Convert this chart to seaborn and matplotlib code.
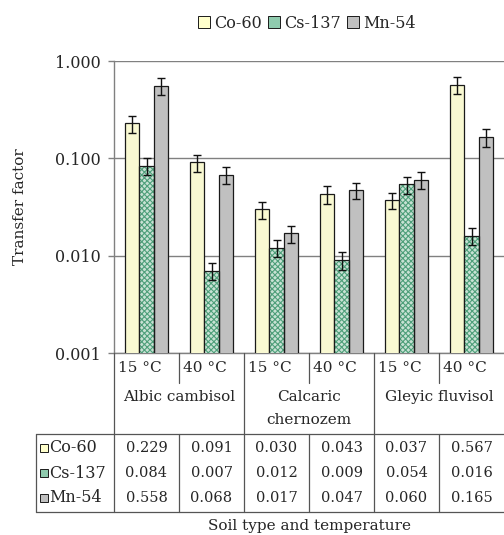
import numpy as np
import pandas as pd
import matplotlib
matplotlib.use("Agg")
import matplotlib.pyplot as plt
import matplotlib.transforms as mtransforms
from matplotlib.lines import Line2D
from matplotlib.patches import Patch, Rectangle
from matplotlib.ticker import FormatStrFormatter, NullLocator
import seaborn as sns

# ---------------- data ----------------
soils = ["Albic cambisol", "Calcaric\nchernozem", "Gleyic fluvisol"]
temps = ["15 °C", "40 °C"]
isotopes = ["Co-60", "Cs-137", "Mn-54"]
co60 = [0.229, 0.091, 0.030, 0.043, 0.037, 0.567]
cs137 = [0.084, 0.007, 0.012, 0.009, 0.054, 0.016]
mn54 = [0.558, 0.068, 0.017, 0.047, 0.060, 0.165]
co60_err = [0.046, 0.018, 0.006, 0.009, 0.007, 0.113]
cs137_err = [0.017, 0.0014, 0.0024, 0.0018, 0.011, 0.0032]
mn54_err = [0.110, 0.014, 0.0034, 0.009, 0.012, 0.033]
yticks = [0.001, 0.010, 0.100, 1.000]

values = [co60, cs137, mn54]
errors = [co60_err, cs137_err, mn54_err]
conds = [f"{s} {t}" for s in soils for t in temps]
rows = []
for iso, vals, errs in zip(isotopes, values, errors):
    for c, v, e in zip(conds, vals, errs):
        rows.append({"cond": c, "isotope": iso, "value": v, "err": e})
df = pd.DataFrame(rows)

# ---------------- style ----------------
sns.set_theme(style="white")
plt.rcParams["font.family"] = ["DejaVu Serif", "DejaVu Sans"]
plt.rcParams["hatch.linewidth"] = 0.8

fill_colors = {"Co-60": "#FFFFCC", "Cs-137": "#C4E6D4", "Mn-54": "#C0C0C0"}
key_cs = "#8FCBAE"
hatch_green = "#4E9F7A"
edge = "#1a1a1a"
line_gray = "#808080"
table_line = "#555555"
TXT = 11
NUM = 10.5

W, H = 504, 535
fig = plt.figure(figsize=(W / 100, H / 100), dpi=100)
fx = lambda px: px / W
fy = lambda py: 1 - py / H

ax_left, ax_right, ax_top, ax_bot = 114, 504, 61, 353
ax = fig.add_axes([fx(ax_left), fy(ax_bot), fx(ax_right - ax_left), (ax_bot - ax_top) / H])

sns.barplot(data=df, x="cond", y="value", hue="isotope", order=conds,
            hue_order=isotopes, palette=fill_colors, width=0.67, gap=0,
            edgecolor=edge, linewidth=0.9, errorbar=None, legend=False,
            ax=ax, zorder=3)
ax.set_yscale("log")
ax.set_ylim(0.001, 1.0)
ax.set_xlim(-0.5, len(conds) - 0.5)

# error bars + hatch for Cs-137
for k, (cont, iso) in enumerate(zip(ax.containers, isotopes)):
    xs = [b.get_x() + b.get_width() / 2 for b in cont]
    ax.errorbar(xs, values[k], yerr=errors[k], fmt="none", ecolor="#111111",
                elinewidth=1.0, capsize=3.2, capthick=1.0, zorder=5)
    if iso == "Cs-137":
        for b in cont:
            b.set_hatch("xxxxxx")
            b.set_edgecolor(hatch_green)
            b.set_linewidth(0)
            ax.add_patch(Rectangle((b.get_x(), 1e-6), b.get_width(), b.get_height(),
                                   fill=False, edgecolor=edge, linewidth=0.9, zorder=4))

# axes styling
ax.set_yticks(yticks)
ax.yaxis.set_major_formatter(FormatStrFormatter("%.3f"))
ax.yaxis.set_minor_locator(NullLocator())
ax.set_xticks([])
ax.set_xlabel("")
ax.set_ylabel("")
ax.tick_params(axis="y", which="major", left=True, length=4.5, width=1,
               color=line_gray, labelsize=11.5, pad=5)
ax.grid(axis="y", color=line_gray, linewidth=1, zorder=0)
ax.set_axisbelow(True)
for s in ["top", "right"]:
    ax.spines[s].set_visible(False)
for s in ["left", "bottom"]:
    ax.spines[s].set_color(line_gray)
    ax.spines[s].set_linewidth(1)

# ---------------- data table below ----------------
bt = mtransforms.blended_transform_factory(ax.transData, fig.transFigure)
bt_shift = mtransforms.offset_copy(bt, fig=fig, x=4, y=0, units="dots")
ncol = len(conds)
bounds = [i - 0.5 for i in range(ncol + 1)]

def vline(x, y0, y1, trans=bt):
    fig.add_artist(Line2D([x, x], [fy(y0), fy(y1)], color=table_line, lw=0.9, transform=trans))

# header rows: temperature row & soil row
for i, b in enumerate(bounds[:-1]):
    vline(b, ax_bot, 434 if i % 2 == 0 else 383)
for i in range(ncol):
    fig.text(bounds[i], fy(368), temps[i % 2], transform=bt_shift,
             ha="left", va="center", fontsize=TXT)
for j, s in enumerate(soils):
    cx = 2 * j + 0.5
    for li, ln in enumerate(s.split("\n")):
        fig.text(cx, fy(397 + 23 * li), ln, transform=bt, ha="center", va="center", fontsize=TXT)

# table box
tb_top, tb_bot, tb_left = 434, 512, 36
for yy in (tb_top, tb_bot):
    fig.add_artist(Line2D([fx(tb_left), fx(W)], [fy(yy), fy(yy)], color=table_line, lw=0.9,
                          transform=fig.transFigure))
vline(fx(tb_left), tb_top, tb_bot, trans=fig.transFigure)
for b in bounds[:-1]:
    vline(b, tb_top, tb_bot)

row_y = [448, 473, 498]
for k, iso in enumerate(isotopes):
    y = row_y[k]
    sq = Rectangle((fx(39.5), fy(y + 4)), fx(8), 8 / H, transform=fig.transFigure,
                   facecolor=key_cs if iso == "Cs-137" else fill_colors[iso],
                   edgecolor=edge, linewidth=0.7)
    fig.add_artist(sq)
    fig.text(fx(49.5), fy(y), iso, ha="left", va="center", fontsize=11.5)
    for i in range(ncol):
        fig.text(i, fy(y), f"{values[k][i]:.3f}", transform=bt, ha="center", va="center",
                 fontsize=NUM)

# axis titles
fig.text(fx(20), fy(207), "Transfer factor", rotation=90, ha="center", va="center", fontsize=TXT)
fig.text(fx(309), fy(526), "Soil type and temperature", ha="center", va="center", fontsize=TXT)

# legend at top
handles = [Patch(facecolor=key_cs if iso == "Cs-137" else fill_colors[iso],
                 edgecolor=edge, linewidth=0.7, label=iso) for iso in isotopes]
fig.legend(handles=handles, loc="center", bbox_to_anchor=(fx(307), fy(23)), ncol=3,
           frameon=False, fontsize=11.5, handlelength=0.75, handleheight=0.75,
           handletextpad=0.25, columnspacing=0.4, borderaxespad=0)

fig.savefig("out.png", dpi=100)
